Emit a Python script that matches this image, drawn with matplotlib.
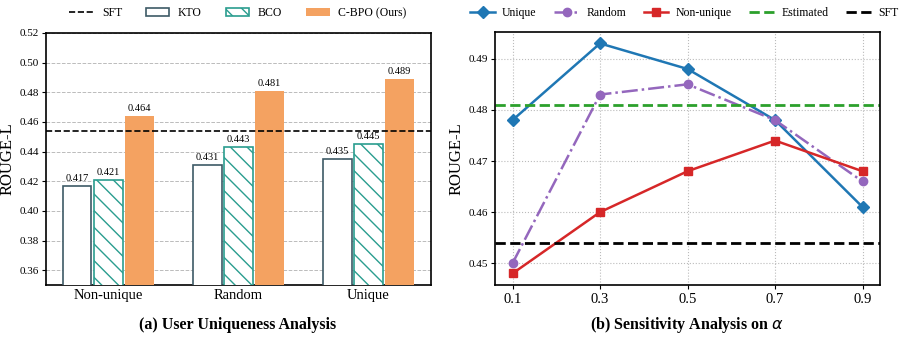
import numpy as np
import matplotlib
matplotlib.use("Agg")
import matplotlib.pyplot as plt

plt.rcParams['font.family'] = ['Liberation Serif', 'DejaVu Serif']
plt.rcParams['mathtext.fontset'] = 'dejavusans'

# (a) user uniqueness
groups = ['Non-unique', 'Random', 'Unique']
kto = [0.417, 0.431, 0.435]
bco = [0.421, 0.443, 0.445]
cbpo = [0.464, 0.481, 0.489]
sft = 0.454

# (b) sensitivity on alpha
alpha = [0.1, 0.3, 0.5, 0.7, 0.9]
uniq = [0.478, 0.493, 0.488, 0.478, 0.461]
rand = [0.450, 0.483, 0.485, 0.478, 0.466]
nonuniq = [0.448, 0.460, 0.468, 0.474, 0.468]
estimated = 0.481

fig = plt.figure(figsize=(9.05, 3.42), dpi=100)
ax1 = fig.add_axes([0.0508, 0.1667, 0.4254, 0.737])
ax2 = fig.add_axes([0.547, 0.1667, 0.4254, 0.740])

x = np.arange(len(groups))
w = 0.22
off = 0.24
b1 = ax1.bar(x - off, kto, w, color='white', edgecolor='#3d5a66', linewidth=1.2, label='KTO', zorder=3)
b2 = ax1.bar(x, bco, w, color='white', edgecolor='#2a9d8f', hatch='\\\\', linewidth=1.2, label='BCO', zorder=3)
b3 = ax1.bar(x + off, cbpo, w, color='#f4a261', label='C-BPO (Ours)', zorder=3)
ln = ax1.axhline(sft, color='black', linestyle='--', linewidth=1.2, label='SFT', zorder=4)
for bars, vals in [(b1, kto), (b2, bco), (b3, cbpo)]:
    for b, v in zip(bars, vals):
        ax1.text(b.get_x() + b.get_width() / 2, v + 0.002, '%.3f' % v,
                 ha='center', va='bottom', fontsize=7.5)
ax1.set_ylim(0.35, 0.52)
ax1.set_xlim(-0.48, 2.48)
ax1.set_yticks(np.arange(0.36, 0.521, 0.02))
ax1.set_yticklabels(['%.2f' % t for t in np.arange(0.36, 0.521, 0.02)])
ax1.set_xticks(x)
ax1.set_xticklabels(groups, fontsize=10.5)
ax1.tick_params(axis='y', labelsize=8, length=3, pad=2)
ax1.tick_params(axis='x', length=0, pad=3)
ax1.set_ylabel('ROUGE-L', fontsize=12, labelpad=3)
ax1.yaxis.grid(True, linestyle='--', color='#bbbbbb', linewidth=0.7, zorder=0)
ax1.set_axisbelow(True)
for s in ax1.spines.values():
    s.set_linewidth(1.2)
fig.legend(handles=[ln, b1, b2, b3], labels=['SFT', 'KTO', 'BCO', 'C-BPO (Ours)'],
           loc='center', bbox_to_anchor=(0.263, 0.962), ncol=4, frameon=False,
           fontsize=8.5, columnspacing=2.0, handlelength=2.0, handletextpad=0.75)

l1, = ax2.plot(alpha, uniq, color='#1f77b4', marker='D', markersize=6, linewidth=1.8, label='Unique')
l2, = ax2.plot(alpha, rand, color='#9467bd', marker='o', markersize=6, linewidth=1.8, linestyle='-.', label='Random')
l3, = ax2.plot(alpha, nonuniq, color='#d62728', marker='s', markersize=6, linewidth=1.8, label='Non-unique')
l4 = ax2.axhline(estimated, color='#2ca02c', linestyle='--', linewidth=2, label='Estimated')
l5 = ax2.axhline(sft, color='black', linestyle='--', linewidth=2, label='SFT')
ax2.set_xticks(alpha)
ax2.set_xticklabels(['0.1', '0.3', '0.5', '0.7', '0.9'], fontsize=10.5)
ax2.set_yticks([0.45, 0.46, 0.47, 0.48, 0.49])
ax2.set_yticklabels(['0.45', '0.46', '0.47', '0.48', '0.49'])
ax2.tick_params(axis='y', labelsize=8, length=3, pad=2)
ax2.tick_params(axis='x', length=3, pad=3)
ax2.set_ylabel('ROUGE-L', fontsize=12, labelpad=3)
ax2.grid(True, linestyle=':', color='#bbbbbb', linewidth=0.8)
ax2.set_axisbelow(True)
for s in ax2.spines.values():
    s.set_linewidth(1.2)
fig.legend(handles=[l1, l2, l3, l4, l5], loc='center', bbox_to_anchor=(0.756, 0.962),
           ncol=5, frameon=False, fontsize=8.5, columnspacing=1.5, handlelength=2.1,
           handletextpad=0.6)

fig.text(0.263, 0.05, '(a) User Uniqueness Analysis', ha='center', va='center',
         fontsize=11.5, fontweight='bold')
fig.text(0.759, 0.05, r'(b) Sensitivity Analysis on $\alpha$', ha='center', va='center',
         fontsize=11.5, fontweight='bold')

fig.savefig('out.png', dpi=100)
